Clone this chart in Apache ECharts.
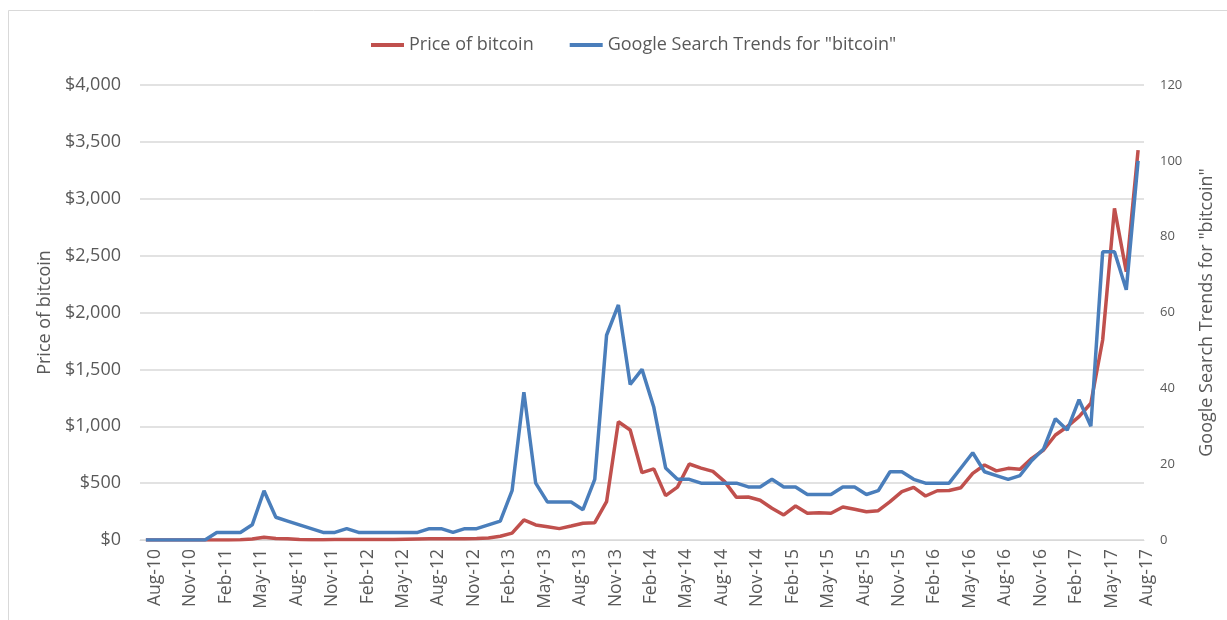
<!DOCTYPE html>
<html>
<head>
<meta charset="utf-8">
<script src="https://cdn.jsdelivr.net/npm/echarts@6/dist/echarts.min.js"></script>
<style>
html,body{margin:0;padding:0;background:#fff;}
#chart{width:1227px;height:620px;}
</style>
</head>
<body>
<div id="chart"></div>
<script>
const months = [
  "Aug-10","Sep-10","Oct-10","Nov-10","Dec-10",
  "Jan-11","Feb-11","Mar-11","Apr-11","May-11","Jun-11","Jul-11","Aug-11","Sep-11","Oct-11","Nov-11","Dec-11",
  "Jan-12","Feb-12","Mar-12","Apr-12","May-12","Jun-12","Jul-12","Aug-12","Sep-12","Oct-12","Nov-12","Dec-12",
  "Jan-13","Feb-13","Mar-13","Apr-13","May-13","Jun-13","Jul-13","Aug-13","Sep-13","Oct-13","Nov-13","Dec-13",
  "Jan-14","Feb-14","Mar-14","Apr-14","May-14","Jun-14","Jul-14","Aug-14","Sep-14","Oct-14","Nov-14","Dec-14",
  "Jan-15","Feb-15","Mar-15","Apr-15","May-15","Jun-15","Jul-15","Aug-15","Sep-15","Oct-15","Nov-15","Dec-15",
  "Jan-16","Feb-16","Mar-16","Apr-16","May-16","Jun-16","Jul-16","Aug-16","Sep-16","Oct-16","Nov-16","Dec-16",
  "Jan-17","Feb-17","Mar-17","Apr-17","May-17","Jun-17","Jul-17","Aug-17"
];

const priceOfBitcoin = [
  0.07,0.06,0.1,0.25,0.25,
  0.3,0.9,0.9,1.5,8,25,14,10,5,3,3,5,
  5,5,5,5,5,7,9,11,12,12,11,13,
  18,33,60,176,132,117,100,123,147,152,337,1040,
  967,592,625,390,465,668,632,603,513,375,378,350,
  279,220,299,235,240,235,290,270,249,258,337,425,
  463,387,433,435,460,586,659,608,630,621,718,791,
  923,996,1084,1202,1758,2916,2358,3428
];

const googleTrends = [
  0,0,0,0,0,
  0,2,2,2,4,13,6,5,4,3,2,2,
  3,2,2,2,2,2,2,3,3,2,3,3,
  4,5,13,39,15,10,10,10,8,16,54,62,
  41,45,35,19,16,16,15,15,15,15,14,14,
  16,14,14,12,12,12,14,14,12,13,18,18,
  16,15,15,15,19,23,18,17,16,17,21,24,
  32,29,37,30,76,76,66,100
];

const leftTicks = { min: 0, max: 4000, interval: 500 };
const rightTicks = { min: 0, max: 120, interval: 20 };

const seriesNames = ["Price of bitcoin", "Google Search Trends for \"bitcoin\""];

const chart = echarts.init(document.getElementById('chart'), null, { renderer: 'canvas' });
const FONT = '"Open Sans", "Liberation Sans", sans-serif';
const GREY = '#595959';

chart.setOption({
  backgroundColor: '#ffffff',
  animation: false,
  textStyle: { fontFamily: FONT },
  graphic: [{
    type: 'rect',
    shape: { x: 8.5, y: 10.5, width: 1240, height: 640 },
    style: { fill: 'none', stroke: '#d9d9d9', lineWidth: 1 },
    silent: true, z: -10
  }],
  legend: {
    top: 31,
    left: 366,
    itemWidth: 33,
    itemHeight: 4,
    itemGap: 36,
    icon: 'rect',
    textStyle: { color: GREY, fontSize: 18, fontFamily: FONT },
    data: seriesNames
  },
  grid: { left: 140, right: 83, top: 85, bottom: 80, containLabel: false },
  xAxis: {
    type: 'category',
    data: months,
    boundaryGap: true,
    axisLine: { show: true, lineStyle: { color: '#d9d9d9', width: 1 } },
    axisTick: { show: false },
    axisLabel: {
      interval: 2,
      rotate: 90,
      margin: 9,
      color: GREY,
      fontSize: 17.5,
      fontFamily: FONT,
      verticalAlign: 'top'
    },
    splitLine: { show: false }
  },
  yAxis: [{
    type: 'value',
    min: leftTicks.min, max: leftTicks.max, interval: leftTicks.interval,
    position: 'left',
    name: 'Price of bitcoin',
    nameLocation: 'middle',
    nameRotate: 90,
    nameGap: 85,
    nameTextStyle: { color: GREY, fontSize: 18, fontFamily: FONT },
    axisLine: { show: false },
    axisTick: { show: false },
    axisLabel: {
      color: GREY, fontSize: 18, fontFamily: FONT, margin: 19,
      formatter: v => '$' + v.toLocaleString('en-US')
    },
    splitLine: { show: true, lineStyle: { color: '#d9d9d9', width: 1.5 } }
  }, {
    type: 'value',
    min: rightTicks.min, max: rightTicks.max, interval: rightTicks.interval,
    position: 'right',
    name: 'Google Search Trends for "bitcoin"',
    nameLocation: 'middle',
    nameRotate: 90,
    nameGap: 54,
    nameTextStyle: { color: GREY, fontSize: 18, fontFamily: FONT },
    axisLine: { show: false },
    axisTick: { show: false },
    axisLabel: { color: GREY, fontSize: 13, fontFamily: FONT, margin: 16 },
    splitLine: { show: false }
  }],
  series: [{
    name: seriesNames[0],
    type: 'line',
    yAxisIndex: 0,
    data: priceOfBitcoin,
    showSymbol: false,
    symbol: 'none',
    lineStyle: { color: '#c0504d', width: 3.5 },
    itemStyle: { color: '#c0504d' },
    z: 2
  }, {
    name: seriesNames[1],
    type: 'line',
    yAxisIndex: 1,
    data: googleTrends,
    showSymbol: false,
    symbol: 'none',
    lineStyle: { color: '#4a7ebb', width: 3.5 },
    itemStyle: { color: '#4a7ebb' },
    z: 3
  }]
});
</script>
</body>
</html>
